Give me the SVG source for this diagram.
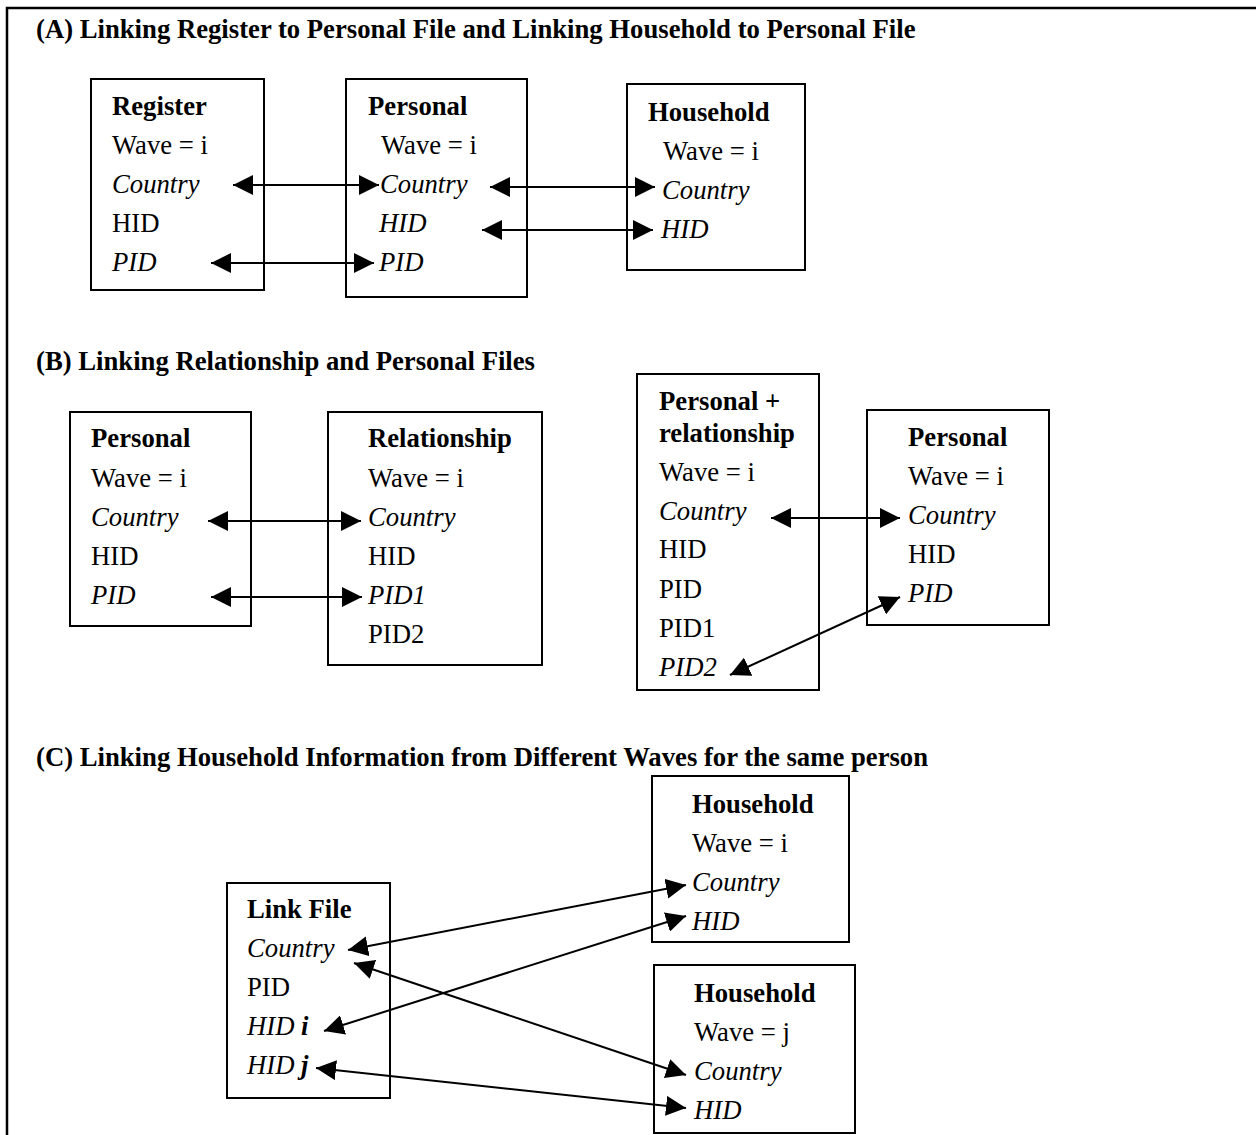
<svg xmlns="http://www.w3.org/2000/svg" width="1256" height="1135" viewBox="0 0 1256 1135">
<style>
text{font-family:"Liberation Serif","Times New Roman",serif;font-size:26.7px;fill:#000}
.t{font-weight:bold}
.b{font-weight:bold}
.i{font-style:italic}
.bi{font-weight:bold;font-style:italic}
.box{fill:#fff;stroke:#000;stroke-width:2}
.c{stroke:#000;stroke-width:2;fill:none;marker-start:url(#ah);marker-end:url(#ah)}
</style>
<defs>
<marker id="ah" viewBox="0 0 20 20" refX="20" refY="10" markerWidth="20" markerHeight="20" markerUnits="userSpaceOnUse" orient="auto-start-reverse">
<path d="M0,0 L20,10 L0,20 Z" fill="#000"/>
</marker>
</defs>
<rect width="1256" height="1135" fill="#fff"/>
<path d="M7,1140 V8 H1262" fill="none" stroke="#000" stroke-width="2.5"/>

<g id="titles">
<text class="t" x="36" y="38">(A) Linking Register to Personal File and Linking Household to Personal File</text>
<text class="t" x="36" y="370">(B) Linking Relationship and Personal Files</text>
<text class="t" x="36" y="766">(C) Linking Household Information from Different Waves for the same person</text>
</g>

<g id="registerA">
<rect class="box" x="91" y="79" width="173" height="211"/>
<text class="b" x="112" y="115">Register</text>
<text x="112" y="154">Wave = i</text>
<text class="i" x="112" y="193">Country</text>
<text x="112" y="232">HID</text>
<text class="i" x="112" y="271">PID</text>
</g>

<g id="personalA">
<rect class="box" x="346" y="79" width="181" height="218"/>
<text class="b" x="368" y="115">Personal</text>
<text x="381" y="154">Wave = i</text>
<text class="i" x="380" y="193">Country</text>
<text class="i" x="379" y="232">HID</text>
<text class="i" x="379" y="271">PID</text>
</g>

<g id="householdA">
<rect class="box" x="627" y="84" width="178" height="186"/>
<text class="b" x="648" y="121">Household</text>
<text x="663" y="160">Wave = i</text>
<text class="i" x="662" y="199">Country</text>
<text class="i" x="661" y="238">HID</text>
</g>

<g id="personalB">
<rect class="box" x="70" y="412" width="181" height="214"/>
<text class="b" x="91" y="447">Personal</text>
<text x="91" y="487">Wave = i</text>
<text class="i" x="91" y="526">Country</text>
<text x="91" y="565">HID</text>
<text class="i" x="91" y="604">PID</text>
</g>

<g id="relationshipB">
<rect class="box" x="328" y="412" width="214" height="253"/>
<text class="b" x="368" y="447">Relationship</text>
<text x="368" y="487">Wave = i</text>
<text class="i" x="368" y="526">Country</text>
<text x="368" y="565">HID</text>
<text class="i" x="368" y="604">PID1</text>
<text x="368" y="643">PID2</text>
</g>

<g id="personalRelB">
<rect class="box" x="637" y="374" width="182" height="316"/>
<text class="b" x="659" y="410">Personal +</text>
<text class="b" x="659" y="442">relationship</text>
<text x="659" y="481">Wave = i</text>
<text class="i" x="659" y="520">Country</text>
<text x="659" y="558">HID</text>
<text x="659" y="598">PID</text>
<text x="659" y="637">PID1</text>
<text class="i" x="659" y="676">PID2</text>
</g>

<g id="personalB2">
<rect class="box" x="867" y="410" width="182" height="215"/>
<text class="b" x="908" y="446">Personal</text>
<text x="908" y="485">Wave = i</text>
<text class="i" x="908" y="524">Country</text>
<text x="908" y="563">HID</text>
<text class="i" x="908" y="602">PID</text>
</g>

<g id="linkFileC">
<rect class="box" x="227" y="883" width="163" height="215"/>
<text class="b" x="247" y="918">Link File</text>
<text class="i" x="247" y="957">Country</text>
<text x="247" y="996">PID</text>
<text x="247" y="1035"><tspan class="i">HID</tspan> <tspan class="bi">i</tspan></text>
<text x="247" y="1074"><tspan class="i">HID</tspan> <tspan class="bi">j</tspan></text>
</g>

<g id="householdCi">
<rect class="box" x="652" y="776" width="197" height="166"/>
<text class="b" x="692" y="813">Household</text>
<text x="692" y="852">Wave = i</text>
<text class="i" x="692" y="891">Country</text>
<text class="i" x="692" y="930">HID</text>
</g>

<g id="householdCj">
<rect class="box" x="654" y="965" width="201" height="168"/>
<text class="b" x="694" y="1002">Household</text>
<text x="694" y="1041">Wave = j</text>
<text class="i" x="694" y="1080">Country</text>
<text class="i" x="694" y="1119">HID</text>
</g>

<g id="connectors">
<line class="c" x1="233" y1="185" x2="379" y2="185"/>
<line class="c" x1="211" y1="263" x2="374" y2="263"/>
<line class="c" x1="490" y1="187" x2="655" y2="187"/>
<line class="c" x1="482" y1="230" x2="653" y2="230"/>
<line class="c" x1="208" y1="521" x2="361" y2="521"/>
<line class="c" x1="211" y1="597" x2="362" y2="597"/>
<line class="c" x1="771" y1="518" x2="900" y2="518"/>
<line class="c" x1="730" y1="675" x2="900" y2="597"/>
<line class="c" x1="348" y1="950" x2="686" y2="885"/>
<line class="c" x1="324" y1="1031" x2="686" y2="916"/>
<line class="c" x1="354" y1="963" x2="686" y2="1075"/>
<line class="c" x1="316" y1="1068" x2="686" y2="1108"/>
</g>
</svg>
